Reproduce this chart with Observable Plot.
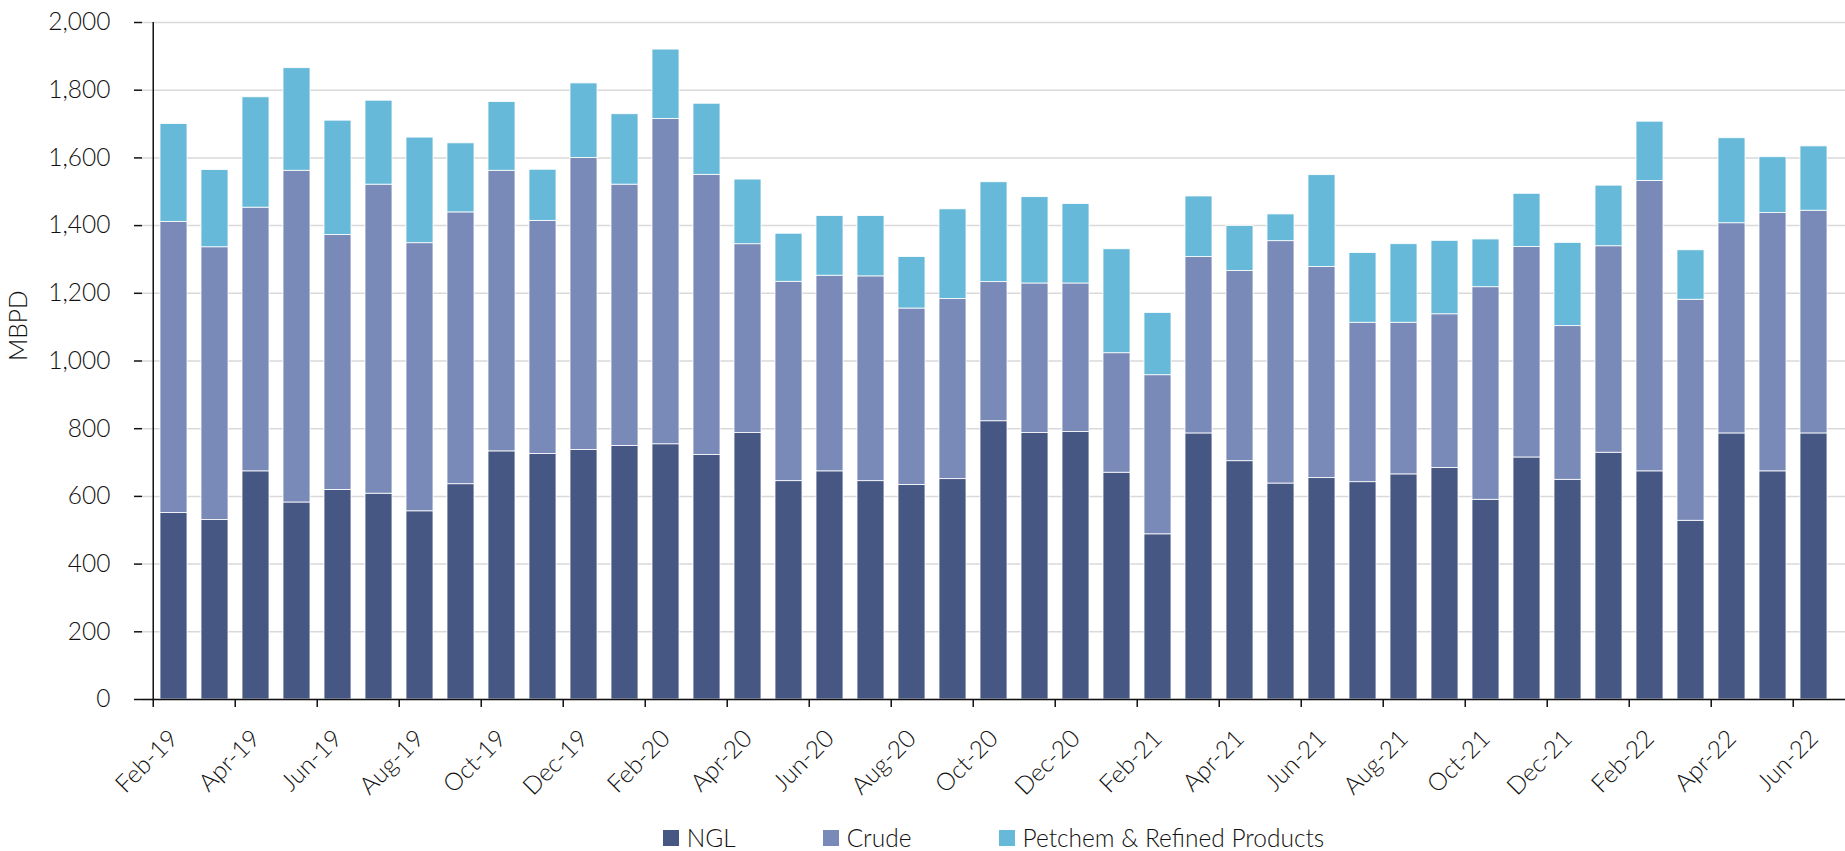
<!DOCTYPE html>
<html>
<head>
<meta charset="utf-8">
<script src="https://cdn.jsdelivr.net/npm/d3@7"></script>
<script src="https://cdn.jsdelivr.net/npm/@observablehq/plot@0.6"></script>
<style>
  html, body { margin: 0; padding: 0; background: #fff; }
  #wrap { position: relative; width: 1845px; height: 851px; overflow: hidden; font-family: Lato, "Open Sans", sans-serif; font-weight: 300; color: #111; }
  #legend { position: absolute; top: 826px; left: 142px; width: 1703px; display: flex; justify-content: center; gap: 87px; font-size: 24.5px; line-height: 24px; }
  .item { display: flex; align-items: center; }
  .sw { width: 16px; height: 16px; margin-right: 8px; }
  #chart svg text { font-weight: 300; }
</style>
</head>
<body>
<div id="wrap"><div id="chart"></div><div id="legend"></div></div>
<script>
const months = ["Feb-19","Mar-19","Apr-19","May-19","Jun-19","Jul-19","Aug-19","Sep-19","Oct-19","Nov-19","Dec-19",
  "Jan-20","Feb-20","Mar-20","Apr-20","May-20","Jun-20","Jul-20","Aug-20","Sep-20","Oct-20","Nov-20","Dec-20",
  "Jan-21","Feb-21","Mar-21","Apr-21","May-21","Jun-21","Jul-21","Aug-21","Sep-21","Oct-21","Nov-21","Dec-21",
  "Jan-22","Feb-22","Mar-22","Apr-22","May-22","Jun-22"];
const ngl = [551,530,674,582,619,608,556,636,733,725,737,
  749,754,722,787,645,674,645,634,651,822,787,790,670,488,786,
  704,638,654,642,665,684,590,715,649,729,674,528,786,674,786];
const crude = [860,806,779,980,753,913,792,803,829,689,863,
  772,961,828,558,589,578,605,521,532,411,442,439,353,470,521,
  562,716,624,471,448,454,628,622,454,610,858,653,621,763,658];
const petchem = [289,228,326,303,338,248,312,204,203,151,220,
  208,205,210,191,142,176,178,152,265,295,255,235,307,184,179,
  133,79,271,206,232,217,141,157,246,179,175,146,251,165,190];
const seriesNames = ["NGL","Crude","Petchem & Refined Products"];
const seriesColors = ["#465783","#7a8ab8","#66b9d8"];
const yTicks = [0,200,400,600,800,1000,1200,1400,1600,1800,2000];
const labelMonths = months.filter((d, i) => i % 2 === 0);

const data = [];
months.forEach((m, i) => {
  data.push({month: m, series: seriesNames[0], value: ngl[i]});
  data.push({month: m, series: seriesNames[1], value: crude[i]});
  data.push({month: m, series: seriesNames[2], value: petchem[i]});
});

const W = 1845, H = 810, ML = 142, MR = 0, MT = 22, MB = 111;
const pInner = 0.33, pOuter = 0.165;
const step = (W - ML - MR) / (months.length - pInner + 2 * pOuter);
const yMax = 2000;
const tickData = 8 * yMax / (H - MT - MB);
const FS = 24.5;

const chart = Plot.plot({
  width: W, height: H,
  marginLeft: ML, marginRight: MR, marginTop: MT, marginBottom: MB,
  style: {fontFamily: "Lato, 'Open Sans', sans-serif", fontSize: FS + "px", fontWeight: 300, color: "#111", background: "white"},
  x: {domain: months, paddingInner: pInner, paddingOuter: pOuter, axis: null},
  y: {domain: [0, yMax]},
  color: {domain: seriesNames, range: seriesColors},
  marks: [
    Plot.gridY(yTicks, {stroke: "#d9d9d9", strokeOpacity: 1, strokeWidth: 1.5}),
    Plot.barY(data, {x: "month", y: "value", fill: "series", stroke: "white", strokeWidth: 0.8}),
    Plot.ruleY([0], {stroke: "#111", strokeWidth: 1.5}),
    Plot.ruleX([months[0]], {y1: 0, y2: yMax, dx: -step / 2, stroke: "#111", strokeWidth: 1.5}),
    Plot.ruleX(labelMonths, {x: d => d, y1: 0, y2: -tickData, dx: -step / 2, stroke: "#111", strokeWidth: 1.5}),
    Plot.axisY(yTicks, {tickSize: 8, tickPadding: 24, tickFormat: d3.format(","), fontSize: FS, label: null, stroke: "#111", strokeWidth: 1.5}),
    Plot.text(labelMonths, {x: d => d, frameAnchor: "bottom", dy: 35, rotate: -45, textAnchor: "end", lineAnchor: "middle", fontSize: FS, fill: "#111"}),
    Plot.text(["MBPD"], {frameAnchor: "left", dx: -123, rotate: -90, fontSize: FS, fill: "#111"})
  ]
});
document.getElementById("chart").appendChild(chart);

const legend = document.getElementById("legend");
seriesNames.forEach((s, i) => {
  const it = document.createElement("div");
  it.className = "item";
  const sw = document.createElement("span");
  sw.className = "sw";
  sw.style.background = seriesColors[i];
  const tx = document.createElement("span");
  tx.textContent = s;
  it.appendChild(sw); it.appendChild(tx);
  legend.appendChild(it);
});
</script>
</body>
</html>
